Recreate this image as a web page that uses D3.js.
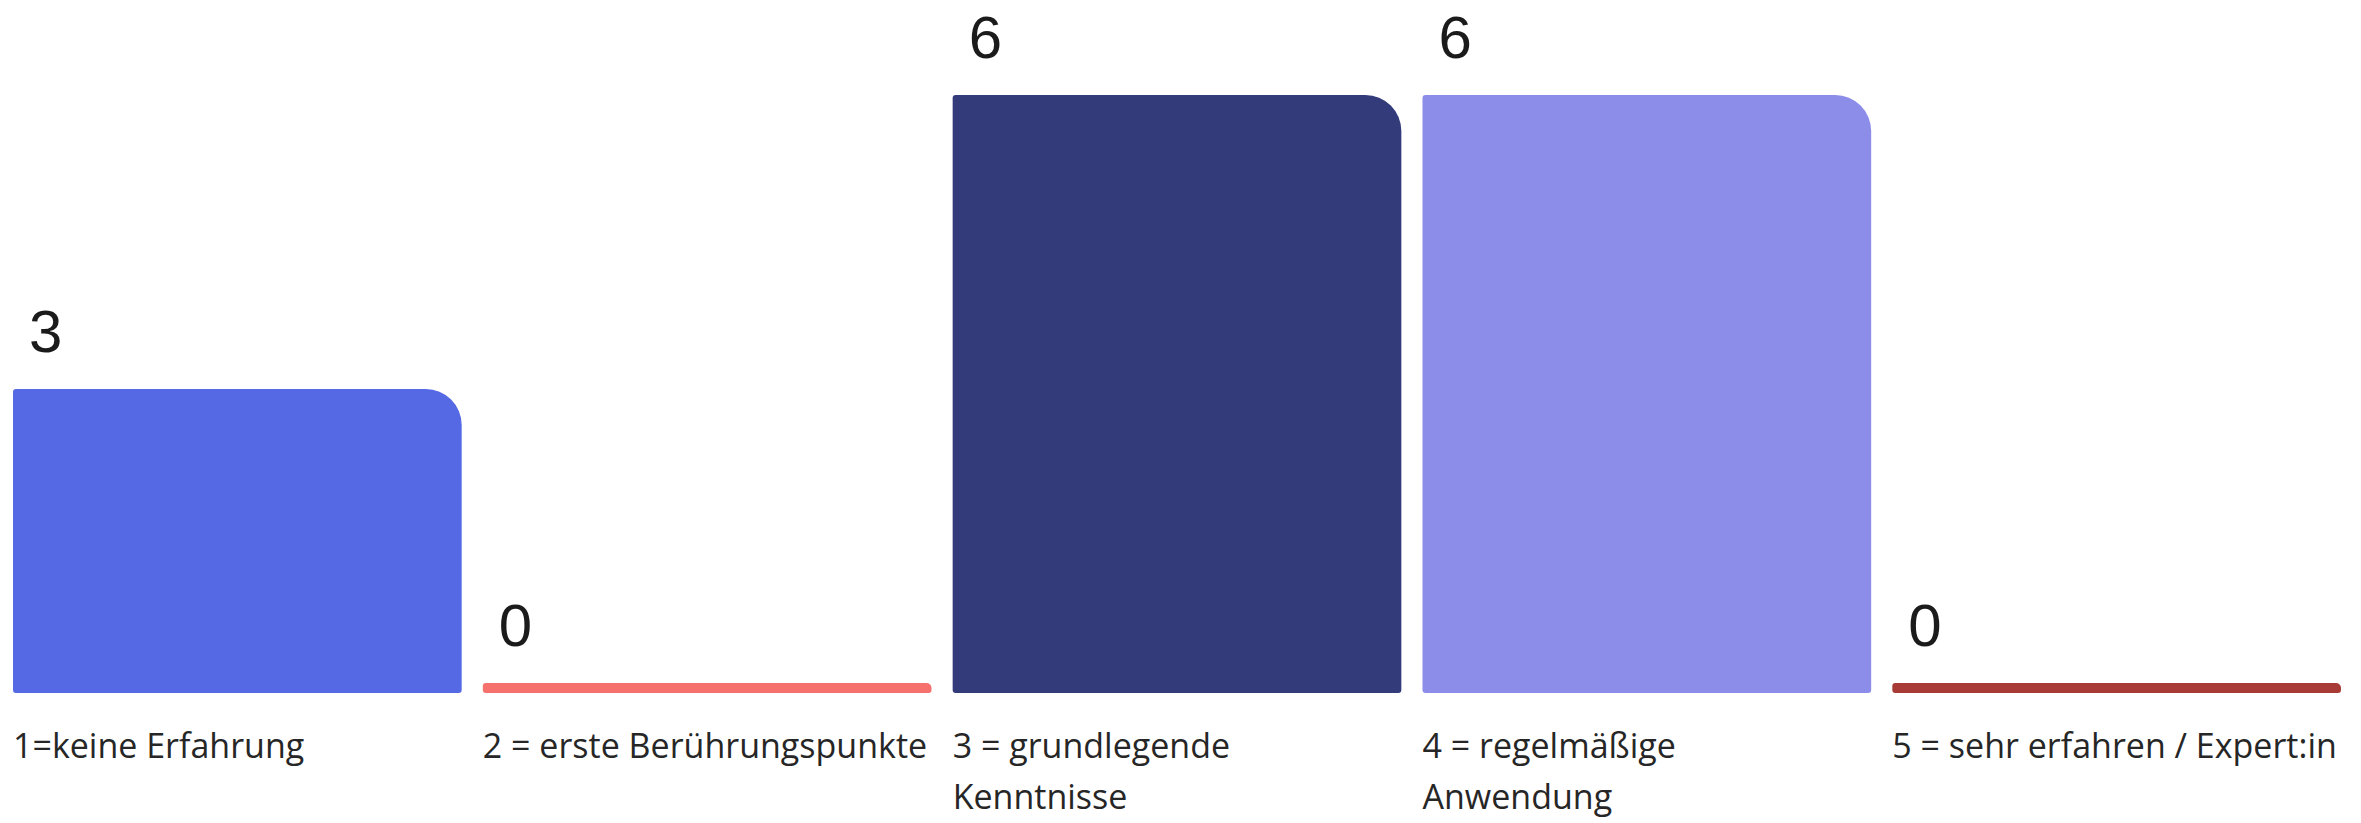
<!DOCTYPE html>
<html>
<head>
<meta charset="utf-8">
<script src="https://cdn.jsdelivr.net/npm/d3@7"></script>
<style>
  html, body { margin: 0; padding: 0; background: #fff; }
  svg { display: block; }
  .value { font-family: "Liberation Sans", Arial, sans-serif; font-size: 60px; fill: #1b1b1b; }
  .cat { font-family: "Open Sans", "Noto Sans", sans-serif; font-size: 34px; fill: #262626; }
</style>
</head>
<body>
<svg id="chart"></svg>
<script>
// Antwortkategorien und Anzahl der Stimmen
const categories = [
  '1=keine Erfahrung',
  '2 = erste Berührungspunkte',
  '3 = grundlegende Kenntnisse',
  '4 = regelmäßige Anwendung',
  '5 = sehr erfahren / Expert:in'
];
const values = [3, 0, 6, 6, 0];
const colors = ['#5669E4', '#F6716D', '#333B7B', '#8C8DE8', '#A93B36'];

const W = 2361, H = 823;
const baseY = 693;     // Unterkante der Balken
const minH = 10;       // 0-Werte werden als dünner Strich gezeigt

const svg = d3.select('#chart').attr('width', W).attr('height', H);

const x = d3.scaleBand()
  .domain(categories)
  .range([13, 2341])
  .paddingInner(0.045)
  .paddingOuter(0);

const y = d3.scaleLinear()
  .domain([0, 6])
  .range([baseY - minH, 95]);

// Balken mit runder Ecke oben rechts
function barPath(x0, y0, w, h) {
  const rTR = Math.min(36, h / 2);
  const r = Math.min(3, h / 2);
  const x1 = x0 + w, y1 = y0 + h;
  return `M${x0 + r},${y0}` +
    `H${x1 - rTR}` +
    `A${rTR},${rTR} 0 0 1 ${x1},${y0 + rTR}` +
    `V${y1 - r}` +
    `A${r},${r} 0 0 1 ${x1 - r},${y1}` +
    `H${x0 + r}` +
    `A${r},${r} 0 0 1 ${x0},${y1 - r}` +
    `V${y0 + r}` +
    `A${r},${r} 0 0 1 ${x0 + r},${y0}Z`;
}

svg.selectAll('.bar')
  .data(values)
  .enter()
  .append('path')
  .attr('class', 'bar')
  .attr('fill', (d, i) => colors[i])
  .attr('d', (d, i) => barPath(x(categories[i]), y(d), x.bandwidth(), baseY - y(d)));

// Werte über den Balken
svg.selectAll('.value')
  .data(values)
  .enter()
  .append('text')
  .attr('class', 'value')
  .attr('x', (d, i) => x(categories[i]) + 16)
  .attr('y', d => y(d) - 37)
  .text(d => d);

// Kategorienamen, umbrechen wenn zu breit
const labels = svg.selectAll('.cat')
  .data(categories)
  .enter()
  .append('text')
  .attr('class', 'cat')
  .attr('x', d => x(d))
  .attr('y', 758);

labels.each(function(d) {
  const text = d3.select(this);
  const words = d.split(' ');
  const maxW = x.bandwidth();
  let line = [];
  let tspan = text.append('tspan').attr('x', x(d)).attr('dy', 0);
  words.forEach(word => {
    line.push(word);
    tspan.text(line.join(' '));
    if (tspan.node().getComputedTextLength() > maxW && line.length > 1) {
      line.pop();
      tspan.text(line.join(' '));
      line = [word];
      tspan = text.append('tspan').attr('x', x(d)).attr('dy', 51).text(word);
    }
  });
});
</script>
</body>
</html>
